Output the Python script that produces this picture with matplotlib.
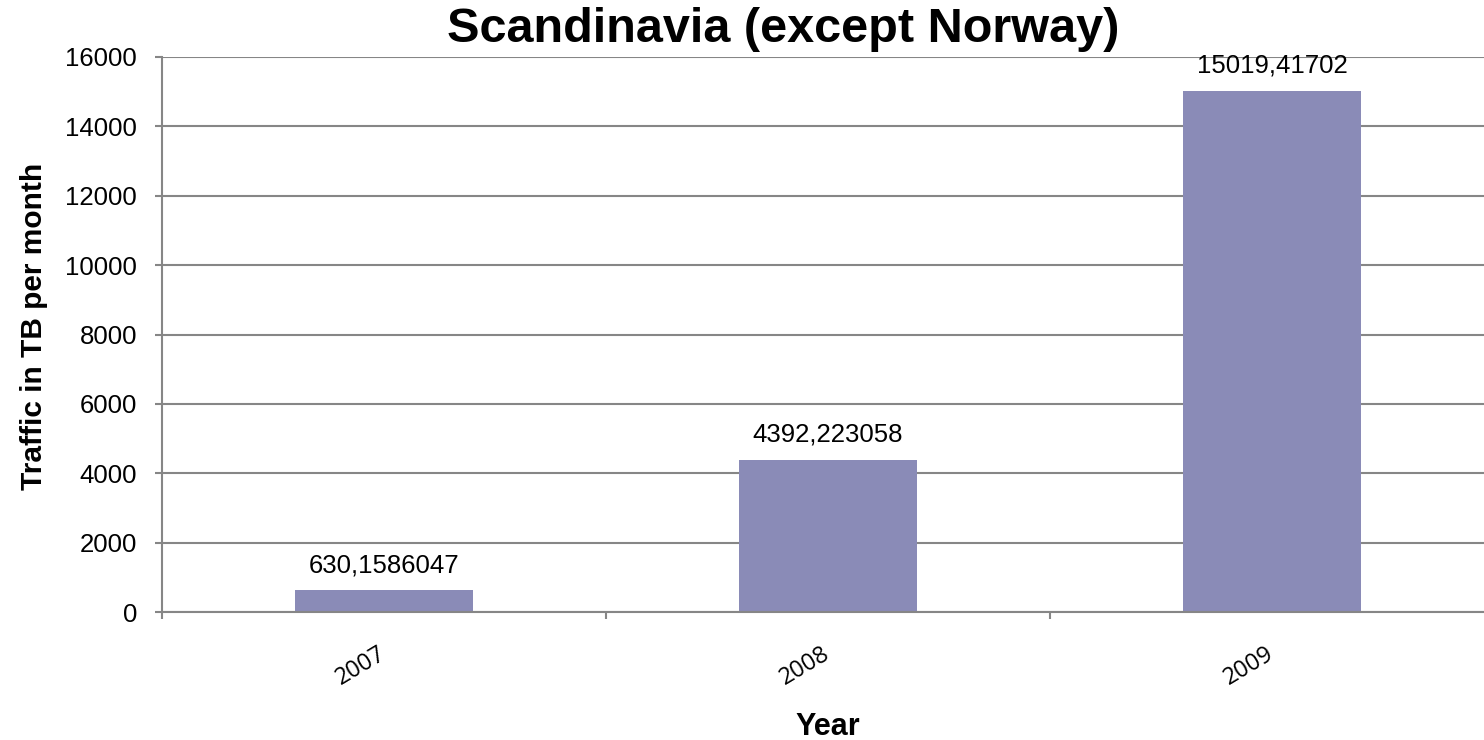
import numpy as np
import matplotlib
matplotlib.use("Agg")
import matplotlib.pyplot as plt

plt.rcParams['font.family'] = ['Liberation Sans', 'DejaVu Sans']

# monthly traffic per year
years = ['2007', '2008', '2009']
traffic_tb = [630.1586047, 4392.223058, 15019.41702]

title = 'Scandinavia (except Norway)'
y_label = 'Traffic in TB per month'
x_label = 'Year'
y_ticks = [0, 2000, 4000, 6000, 8000, 10000, 12000, 14000, 16000]

bar_color = '#8A8BB7'
line_gray = '#868686'

W, H = 1484, 740
fig = plt.figure(figsize=(W / 100, H / 100), dpi=100)
ax = fig.add_axes([162 / W, 128 / H, 1332 / W, 555 / H])

x = np.arange(len(years))
ax.bar(x, traffic_tb, width=0.4, color=bar_color, zorder=3)

ax.set_xlim(-0.5, 2.5)
ax.set_ylim(0, 16000)
ax.set_yticks(y_ticks)
ax.set_yticklabels([str(t) for t in y_ticks], fontsize=18.5)
ax.yaxis.grid(True, color=line_gray, linewidth=1.5, zorder=0)
ax.tick_params(axis='y', length=5, width=1.5, color=line_gray, pad=13, direction='out')

# category labels sit between the boundary tick marks
ax.set_xticks(x)
ax.set_xticks(np.arange(-0.5, 3.0, 1.0), minor=True)
ax.tick_params(axis='x', which='major', length=0, pad=29)
ax.tick_params(axis='x', which='minor', length=5, width=1.5, color=line_gray, direction='out')
ax.set_xticklabels(years)
for lab in ax.get_xticklabels():
    lab.set_rotation(31)
    lab.set_ha('right')
    lab.set_va('center')
    lab.set_rotation_mode('anchor')
    lab.set_fontfamily(['Open Sans', 'DejaVu Sans'])
    lab.set_fontsize(17)

for side in ['top', 'right']:
    ax.spines[side].set_visible(False)
for side in ['left', 'bottom']:
    ax.spines[side].set_color(line_gray)
    ax.spines[side].set_linewidth(1.5)
    ax.spines[side].set_zorder(4)

# value labels above the bars, decimal comma
for xi, v in zip(x, traffic_tb):
    ax.annotate('{:.10g}'.format(v).replace('.', ','), (xi, v),
                xytext=(0, 13), textcoords='offset points',
                ha='center', va='baseline', fontsize=18.5)

fig.text(783 / W, 1 - 42 / H, title, ha='center', va='baseline',
         fontsize=35, fontweight='bold')
fig.text(34 / W, 1 - 326 / H, y_label, ha='center', va='center',
         rotation=90, fontsize=21.5, fontweight='bold')
fig.text(828 / W, 5 / H, x_label, ha='center', va='baseline',
         fontsize=22, fontweight='bold')

fig.savefig('out.png', dpi=100)
